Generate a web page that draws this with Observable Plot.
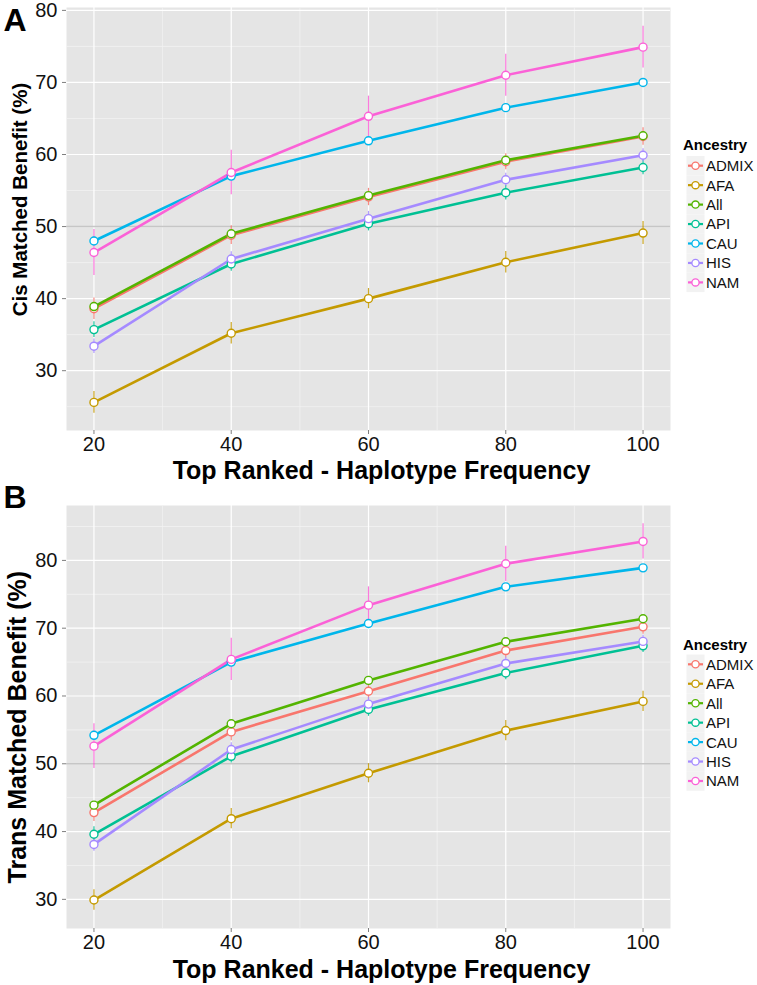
<!DOCTYPE html>
<html><head><meta charset="utf-8">
<script src="https://cdn.jsdelivr.net/npm/d3@7"></script>
<script src="https://cdn.jsdelivr.net/npm/@observablehq/plot@0.6"></script>
<style>
body{margin:0;background:#fff;font-family:Arial,"Liberation Sans",sans-serif;}
#wrap{position:relative;width:757px;height:985px;overflow:hidden;}
.abs{position:absolute;left:0;}
</style></head><body><div id="wrap"></div>
<script>
// ---- data ----
const xTicks = [20, 40, 60, 80, 100];
const xMinor = [30, 50, 70, 90];
const groups = ["ADMIX", "AFA", "All", "API", "CAU", "HIS", "NAM"];
const colors = ["#F8766D", "#C49A00", "#53B400", "#00C094", "#00B6EB", "#A58AFF", "#FB61D7"];

// Panel A: Cis matched benefit (%)
const cisADMIX = [38.6, 48.8, 54.1, 59.0, 62.5];
const cisAFA   = [25.6, 35.2, 40.0, 45.05, 49.1];
const cisAll   = [38.9, 49.0, 54.3, 59.2, 62.6];
const cisAPI   = [35.7, 44.8, 50.4, 54.7, 58.2];
const cisCAU   = [48.0, 57.0, 61.9, 66.5, 70.0];
const cisHIS   = [33.4, 45.5, 51.1, 56.5, 59.9];
const cisNAM   = [46.4, 57.5, 65.3, 71.0, 74.9];
const cisErrADMIX = [1.5, 1.3, 1.2, 1.1, 1.2];
const cisErrAFA   = [1.5, 1.5, 1.4, 1.5, 1.6];
const cisErrAll   = [0.4, 0.4, 0.3, 0.3, 0.3];
const cisErrAPI   = [1.1, 1.0, 1.0, 1.0, 1.0];
const cisErrCAU   = [0.6, 0.5, 0.5, 0.4, 0.4];
const cisErrHIS   = [1.0, 1.0, 1.0, 0.9, 0.9];
const cisErrNAM   = [3.2, 3.1, 2.8, 2.9, 2.9];

// Panel B: Trans matched benefit (%)
const transADMIX = [42.8, 54.7, 60.7, 66.7, 70.2];
const transAFA   = [29.9, 41.9, 48.6, 54.9, 59.2];
const transAll   = [43.9, 55.9, 62.3, 68.0, 71.4];
const transAPI   = [39.6, 51.1, 58.0, 63.4, 67.4];
const transCAU   = [54.2, 65.0, 70.7, 76.1, 78.9];
const transHIS   = [38.1, 52.1, 58.8, 64.8, 68.05];
const transNAM   = [52.6, 65.4, 73.4, 79.5, 82.8];
const transErrADMIX = [1.3, 1.3, 1.2, 1.1, 1.1];
const transErrAFA   = [1.5, 1.5, 1.4, 1.5, 1.5];
const transErrAll   = [0.3, 0.3, 0.3, 0.3, 0.3];
const transErrAPI   = [1.1, 1.0, 1.0, 1.0, 1.0];
const transErrCAU   = [0.5, 0.5, 0.5, 0.4, 0.4];
const transErrHIS   = [1.0, 1.0, 1.0, 0.9, 0.9];
const transErrNAM   = [3.3, 3.1, 2.7, 2.6, 2.6];

const cisYTicks = [30, 40, 50, 60, 70, 80];
const cisYMinor = [25, 35, 45, 55, 65, 75];
const transYTicks = [30, 40, 50, 60, 70, 80];
const transYMinor = [35, 45, 55, 65, 75, 85];

function rowsOf(vals, errs) {
  const out = [];
  groups.forEach((g, gi) => {
    vals[gi].forEach((v, i) => out.push({group: g, x: xTicks[i], y: v, lo: v - errs[gi][i], hi: v + errs[gi][i]}));
  });
  return out;
}
const cisRows = rowsOf([cisADMIX, cisAFA, cisAll, cisAPI, cisCAU, cisHIS, cisNAM],
  [cisErrADMIX, cisErrAFA, cisErrAll, cisErrAPI, cisErrCAU, cisErrHIS, cisErrNAM]);
const transRows = rowsOf([transADMIX, transAFA, transAll, transAPI, transCAU, transHIS, transNAM],
  [transErrADMIX, transErrAFA, transErrAll, transErrAPI, transErrCAU, transErrHIS, transErrNAM]);

const FONT = 'Arial, "Liberation Sans", sans-serif';

function panel(o) {
  return Plot.plot({
    width: 757, height: o.height,
    marginLeft: 66, marginRight: 87, marginTop: o.mt, marginBottom: o.mb,
    style: {fontFamily: FONT, background: "transparent", overflow: "visible", color: "#111"},
    x: {domain: [16, 104]},
    y: {domain: o.yDomain},
    color: {domain: groups, range: colors},
    marks: [
      Plot.frame({fill: "#E5E5E5", stroke: "none"}),
      Plot.gridX(xMinor, {stroke: "#F2F2F2", strokeOpacity: 1, strokeWidth: 0.8}),
      Plot.gridY(o.yMinor, {stroke: "#F2F2F2", strokeOpacity: 1, strokeWidth: 0.8}),
      Plot.gridX(xTicks, {stroke: "#ffffff", strokeOpacity: 1, strokeWidth: 1.2}),
      Plot.gridY(o.yTicks, {stroke: "#ffffff", strokeOpacity: 1, strokeWidth: 1.2}),
      Plot.ruleY([50], {stroke: "#C6C6C6", strokeWidth: 1.6}),
      Plot.ruleX(o.rows, {x: "x", y1: "lo", y2: "hi", stroke: "group", strokeWidth: 1.2, strokeOpacity: 0.85}),
      Plot.line(o.rows, {x: "x", y: "y", z: "group", stroke: "group", strokeWidth: 2.6}),
      Plot.dot(o.rows, {x: "x", y: "y", r: 4, fill: "white", stroke: "group", strokeWidth: 1.4}),
      Plot.axisX(xTicks, {tickSize: 4, tickPadding: 2, fontSize: 20, stroke: "#7f7f7f", fill: "#111", label: null}),
      Plot.axisY(o.yTicks, {tickSize: 4, tickPadding: 5, fontSize: 20, stroke: "#7f7f7f", fill: "#111", label: null}),
      Plot.text([o.letter], {text: d => d, frameAnchor: "top-left", dx: -63, dy: o.letterDy, lineAnchor: "top",
        textAnchor: "start", fontSize: 32, fontWeight: "bold", fill: "#000"}),
      Plot.text([o.ytitle], {text: d => d, frameAnchor: "left", dx: o.ytDx, dy: o.ytDy, rotate: -90,
        lineAnchor: "middle", textAnchor: "middle", fontSize: o.ytSize, fontWeight: "bold", fill: "#000"}),
      Plot.text([o.xtitle], {text: d => d, frameAnchor: "bottom", dx: 13, dy: o.xtDy, lineAnchor: "bottom",
        textAnchor: "middle", fontSize: 25, fontWeight: "bold", fill: "#000"})
    ]
  });
}

const wrap = d3.select("#wrap");

const pA = panel({rows: cisRows, height: 482, mt: 7, mb: 52, yDomain: [21.7, 80.4],
  yTicks: cisYTicks, yMinor: cisYMinor, letter: "A", letterDy: 1,
  ytitle: "Cis Matched Benefit (%)", ytDx: -46, ytDy: -19.5, ytSize: 20.5,
  xtitle: "Top Ranked - Haplotype Frequency", xtDy: 48});
const pB = panel({rows: transRows, height: 503, mt: 23, mb: 57, yDomain: [25.7, 88.1],
  yTicks: transYTicks, yMinor: transYMinor, letter: "B", letterDy: -20,
  ytitle: "Trans Matched Benefit (%)", ytDx: -48.7, ytDy: 10.2, ytSize: 25,
  xtitle: "Top Ranked - Haplotype Frequency", xtDy: 49});

const dA = wrap.append("div").attr("class", "abs").style("top", "0px");
dA.node().appendChild(pA);
const dB = wrap.append("div").attr("class", "abs").style("top", "482px");
dB.node().appendChild(pB);

// ---- legends ----
function legend(titleY, firstY) {
  const step = 19.45;
  const svg = wrap.append("svg").attr("class", "abs")
    .style("top", "0px").attr("width", 757).attr("height", 985)
    .style("pointer-events", "none");
  svg.append("text").attr("x", 683).attr("y", titleY).attr("dy", "0.35em")
    .attr("font-family", FONT).attr("font-size", 15).attr("font-weight", "bold").attr("fill", "#000")
    .text("Ancestry");
  groups.forEach((g, i) => {
    const cy = firstY + i * step;
    svg.append("rect").attr("x", 686.5).attr("y", cy - step / 2).attr("width", 18).attr("height", step)
      .attr("fill", "#F2F2F2");
    svg.append("line").attr("x1", 688).attr("x2", 703).attr("y1", cy).attr("y2", cy)
      .attr("stroke", colors[i]).attr("stroke-width", 2.2);
    svg.append("circle").attr("cx", 695.5).attr("cy", cy).attr("r", 3.6)
      .attr("fill", "#fff").attr("stroke", colors[i]).attr("stroke-width", 1.3);
    svg.append("text").attr("x", 706).attr("y", cy).attr("dy", "0.36em")
      .attr("font-family", FONT).attr("font-size", 15).attr("fill", "#111").text(g);
  });
}
legend(145, 165.7);
legend(645, 664.3);
</script></body></html>
